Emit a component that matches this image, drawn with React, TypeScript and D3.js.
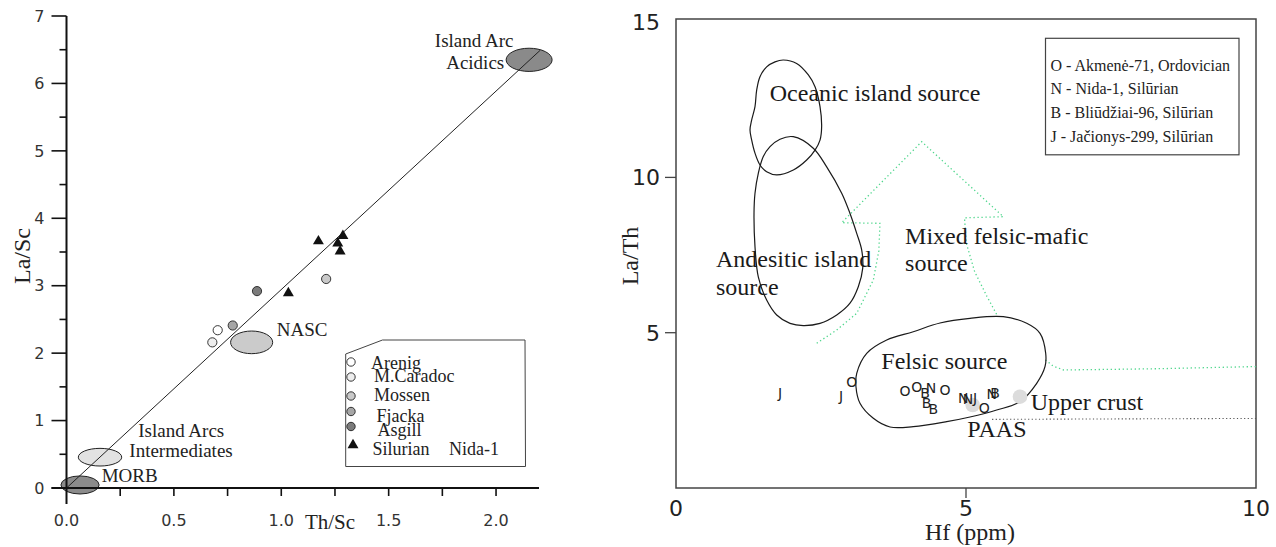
import React, { useRef, useEffect } from 'react';
import * as d3 from 'd3';

// ── Left panel: La/Sc vs Th/Sc ───────────────────────────────────────────────
const ORD_GROUPS = ['Arenig', 'M.Caradoc', 'Mossen', 'Fjacka', 'Asgill'];
const ORD_FILLS = ['#ffffff', '#ededed', '#c9c9c9', '#a6a6a6', '#7b7b7b'];

const ORD_GROUP = ['Arenig', 'M.Caradoc', 'Fjacka', 'Asgill', 'Mossen'];
const ORD_TH_SC = [0.704, 0.679, 0.774, 0.887, 1.209];
const ORD_LA_SC = [2.34, 2.16, 2.41, 2.92, 3.1];

const SIL_TH_SC = [1.033, 1.173, 1.287, 1.263, 1.274];
const SIL_LA_SC = [2.89, 3.66, 3.74, 3.63, 3.51];

const FIELD_NAMES = ['MORB', 'Island Arcs Intermediates', 'NASC', 'Island Arc Acidics'];
const FIELD_CX = [0.063, 0.156, 0.862, 2.154];
const FIELD_CY = [0.045, 0.457, 2.16, 6.35];
const FIELD_RX = [0.089, 0.101, 0.098, 0.107];
const FIELD_RY = [0.134, 0.131, 0.168, 0.172];
const FIELD_FILLS = ['#8b8b8b', '#e2e2e2', '#cbcbcb', '#8a8a8a'];

const TREND_TH_SC = [0, 2.205];
const TREND_LA_SC = [0, 6.49];

const LEFT_X_LABELS = [0, 0.5, 1, 1.5, 2];
const LEFT_X_TICKS = [0.25, 0.5, 0.75, 1, 1.25, 1.5, 1.75, 2];
const LEFT_Y_MAJOR = [0, 1, 2, 3, 4, 5, 6, 7];
const LEFT_Y_MINOR = [0.5, 1.5, 2.5, 3.5, 4.5, 5.5, 6.5];

const LEFT_NOTES = ['Island Arc', 'Acidics', 'NASC', 'Island Arcs', 'Intermediates', 'MORB'];
const LEFT_NOTE_X = [1.898, 1.903, 0.979, 0.334, 0.2925, 0.164];
const LEFT_NOTE_Y = [6.543, 6.217, 2.255, 0.761, 0.455, 0.093];

// ── Right panel: La/Th vs Hf ─────────────────────────────────────────────────
const OCEANIC: [number, number][] = [
  [1.85, 13.78], [2.08, 13.67], [2.282, 13.3], [2.397, 12.92], [2.483, 12.28], [2.511, 11.63],
  [2.483, 11.2], [2.397, 10.88], [2.253, 10.56], [2.023, 10.24], [1.736, 10.08], [1.563, 10.18],
  [1.448, 10.4], [1.362, 10.78], [1.305, 11.2], [1.276, 11.53], [1.305, 11.85], [1.362, 12.28],
  [1.391, 12.81], [1.448, 13.24], [1.563, 13.56], [1.707, 13.72],
];
const ANDESITIC: [number, number][] = [
  [2.022, 11.31], [2.367, 10.94], [2.598, 10.34], [2.857, 9.49], [3.0, 8.84], [3.116, 8.2],
  [3.202, 7.66], [3.219, 7.07], [3.143, 6.48], [3.0, 5.95], [2.771, 5.57], [2.483, 5.3],
  [2.195, 5.23], [1.966, 5.3], [1.736, 5.57], [1.563, 6.05], [1.419, 6.8], [1.362, 7.77],
  [1.345, 8.84], [1.362, 9.49], [1.419, 10.13], [1.505, 10.67], [1.621, 10.99], [1.793, 11.23],
];
const FELSIC: [number, number][] = [
  [5.643, 5.515], [6.047, 5.303], [6.276, 4.981], [6.374, 4.337], [6.362, 3.905], [6.219, 3.371],
  [5.931, 2.778], [5.529, 2.511], [5.069, 2.286], [4.667, 2.135], [4.091, 1.974], [3.69, 1.964],
  [3.402, 2.244], [3.172, 2.727], [3.103, 3.261], [3.116, 3.693], [3.288, 4.337], [3.633, 4.765],
  [4.091, 5.032], [4.552, 5.312], [5.069, 5.464],
];
const MIXED_ARROW: [number, number][] = [
  [2.426, 4.659], [2.771, 5.087], [3.116, 5.625], [3.402, 6.697], [3.497, 7.634], [3.517, 8.522],
  [2.857, 8.542], [4.236, 11.149], [5.643, 8.735], [4.974, 8.699], [5.009, 7.859], [5.15, 6.961],
  [5.36, 6.175], [5.536, 5.56],
];
const MIXED_TAIL: [number, number][] = [[6.37, 4.12], [6.5, 3.93], [6.68, 3.8], [8.3, 3.84], [10, 3.91]];
const PAAS_LINE: [number, number][] = [[5.45, 2.21], [10, 2.24]];

const SAMPLE_CODES = ['J', 'J', 'O', 'O', 'O', 'B', 'N', 'O', 'B', 'B', 'N', 'N', 'J', 'O', 'N', 'B'];
const SAMPLE_HF = [1.793, 2.845, 3.029, 3.948, 4.149, 4.293, 4.397, 4.638, 4.322, 4.437, 4.953, 5.034, 5.155, 5.316, 5.443, 5.5];
const SAMPLE_LA_TH = [3.068, 2.962, 3.422, 3.133, 3.242, 3.049, 3.229, 3.155, 2.746, 2.534, 2.888, 2.865, 2.888, 2.566, 3.017, 3.049];

const REF_NAMES = ['PAAS', 'Upper crust'];
const REF_HF = [5.115, 5.931];
const REF_LA_TH = [2.672, 2.94];

const RIGHT_NOTES = ['Oceanic island source', 'Andesitic island', 'source', 'Mixed felsic-mafic', 'source', 'Felsic source', 'Upper crust', 'PAAS'];
const RIGHT_NOTE_X = [1.617, 0.69, 0.69, 3.95, 3.95, 3.54, 6.115, 5.023];
const RIGHT_NOTE_Y = [12.46, 7.1, 6.22, 7.84, 6.98, 3.82, 2.511, 1.632];

const RIGHT_X_LABELS = [0, 5, 10];
const RIGHT_Y_LABELS = [5, 10, 15];
const RIGHT_Y_TICKS = [5, 10];
const RIGHT_X_TICKS = [5];

const RIGHT_LEGEND = [
  'O - Akmenė-71, Ordovician',
  'N - Nida-1, Silūrian',
  'B - Bliūdžiai-96, Silūrian',
  'J - Jačionys-299, Silūrian',
];

const SERIF = '"Liberation Serif", "Times New Roman", serif';
const SANS = '"DejaVu Sans", Verdana, sans-serif';

export default function App() {
  const ref = useRef<SVGSVGElement | null>(null);

  useEffect(() => {
    document.body.style.margin = '0';
    const svg = d3.select(ref.current);
    svg.selectAll('*').remove();

    // ══ LEFT PANEL ══════════════════════════════════════════════════════════
    const lx = d3.scaleLinear().domain([0, 2.2]).range([66.5, 539]);
    const ly = d3.scaleLinear().domain([0, 7]).range([488, 16]);
    const L = svg.append('g');

    // fields (ellipses)
    FIELD_NAMES.forEach((_, i) => {
      L.append('ellipse')
        .attr('cx', lx(FIELD_CX[i])).attr('cy', ly(FIELD_CY[i]))
        .attr('rx', lx(FIELD_RX[i]) - lx(0)).attr('ry', ly(0) - ly(FIELD_RY[i]))
        .attr('fill', FIELD_FILLS[i])
        .attr('stroke', '#222').attr('stroke-width', 1);
    });

    // trend line
    L.append('line')
      .attr('x1', lx(TREND_TH_SC[0])).attr('y1', ly(TREND_LA_SC[0]))
      .attr('x2', lx(TREND_TH_SC[1])).attr('y2', ly(TREND_LA_SC[1]))
      .attr('stroke', '#222').attr('stroke-width', 1);

    // axes
    L.append('line')
      .attr('x1', lx(0) - 15).attr('x2', lx(2.2))
      .attr('y1', ly(0)).attr('y2', ly(0))
      .attr('stroke', '#111').attr('stroke-width', 2);
    L.append('line')
      .attr('x1', lx(0)).attr('x2', lx(0))
      .attr('y1', ly(7)).attr('y2', ly(0) + 16)
      .attr('stroke', '#111').attr('stroke-width', 2);

    LEFT_X_TICKS.forEach(t => {
      L.append('line')
        .attr('x1', lx(t)).attr('x2', lx(t))
        .attr('y1', ly(0)).attr('y2', ly(0) + 8)
        .attr('stroke', '#111').attr('stroke-width', 1.6);
    });
    LEFT_Y_MAJOR.forEach(t => {
      L.append('line')
        .attr('x1', lx(0) - 15).attr('x2', lx(0))
        .attr('y1', ly(t)).attr('y2', ly(t))
        .attr('stroke', '#111').attr('stroke-width', 1.6);
      L.append('text')
        .attr('x', lx(0) - 22).attr('y', ly(t))
        .attr('dy', '0.36em')
        .attr('text-anchor', 'end')
        .attr('font-family', SANS).attr('font-size', 16)
        .attr('fill', '#333')
        .text(String(t));
    });
    LEFT_Y_MINOR.forEach(t => {
      L.append('line')
        .attr('x1', lx(0) - 7).attr('x2', lx(0))
        .attr('y1', ly(t)).attr('y2', ly(t))
        .attr('stroke', '#111').attr('stroke-width', 1.6);
    });
    LEFT_X_LABELS.forEach(t => {
      L.append('text')
        .attr('x', lx(t)).attr('y', ly(0) + 38)
        .attr('text-anchor', 'middle')
        .attr('font-family', SANS).attr('font-size', 16)
        .attr('fill', '#333')
        .text(t.toFixed(1));
    });

    L.append('text')
      .attr('x', 330).attr('y', 529)
      .attr('text-anchor', 'middle')
      .attr('font-family', SERIF).attr('font-size', 21)
      .attr('fill', '#222')
      .text('Th/Sc');
    L.append('text')
      .attr('transform', 'translate(30,256) rotate(-90)')
      .attr('text-anchor', 'middle')
      .attr('font-family', SERIF).attr('font-size', 24)
      .attr('fill', '#222')
      .text('La/Sc');

    // annotations
    LEFT_NOTES.forEach((t, i) => {
      L.append('text')
        .attr('x', lx(LEFT_NOTE_X[i])).attr('y', ly(LEFT_NOTE_Y[i]))
        .attr('text-anchor', i < 2 ? 'middle' : 'start')
        .attr('font-family', SERIF).attr('font-size', 19)
        .attr('fill', '#222')
        .text(t);
    });

    // samples
    ORD_GROUP.forEach((g, i) => {
      L.append('circle')
        .attr('cx', lx(ORD_TH_SC[i])).attr('cy', ly(ORD_LA_SC[i]))
        .attr('r', 4.6)
        .attr('fill', ORD_FILLS[ORD_GROUPS.indexOf(g)])
        .attr('stroke', '#222').attr('stroke-width', 0.9);
    });
    const tri = d3.symbol().type(d3.symbolTriangle).size(52);
    SIL_TH_SC.forEach((v, i) => {
      L.append('path')
        .attr('d', tri())
        .attr('transform', `translate(${lx(v)},${ly(SIL_LA_SC[i])})`)
        .attr('fill', '#111');
    });

    // legend
    const legendPts: [number, number][] = [[345.7, 354], [382.5, 340], [525, 340], [525.5, 466.5], [345.7, 466.5]];
    L.append('path')
      .attr('d', d3.line()(legendPts) + 'Z')
      .attr('fill', 'white')
      .attr('stroke', '#444').attr('stroke-width', 1);
    const symY = [362, 377, 396, 411.5, 426.5];
    const txtX = [371, 374, 374, 376.5, 377.5];
    const txtY = [369, 382, 401, 422, 436];
    ORD_GROUPS.forEach((g, i) => {
      L.append('circle')
        .attr('cx', 351).attr('cy', symY[i]).attr('r', 4.2)
        .attr('fill', ORD_FILLS[i])
        .attr('stroke', '#222').attr('stroke-width', 0.9);
      L.append('text')
        .attr('x', txtX[i]).attr('y', txtY[i])
        .attr('font-family', SERIF).attr('font-size', 18)
        .attr('fill', '#222')
        .text(g);
    });
    L.append('path')
      .attr('d', tri())
      .attr('transform', 'translate(353,445)')
      .attr('fill', '#111');
    L.append('text')
      .attr('x', 372.5).attr('y', 455)
      .attr('font-family', SERIF).attr('font-size', 18)
      .attr('fill', '#222')
      .text('Silurian');
    L.append('text')
      .attr('x', 449).attr('y', 455)
      .attr('font-family', SERIF).attr('font-size', 18)
      .attr('fill', '#222')
      .text('Nida-1');

    // ══ RIGHT PANEL ═════════════════════════════════════════════════════════
    const rx = d3.scaleLinear().domain([0, 10]).range([676, 1256]);
    const ry = d3.scaleLinear().domain([0, 15.1]).range([488, 19]);
    const R = svg.append('g');

    R.append('rect')
      .attr('x', rx(0)).attr('y', ry(15.1))
      .attr('width', rx(10) - rx(0)).attr('height', ry(0) - ry(15.1))
      .attr('fill', 'none')
      .attr('stroke', '#444').attr('stroke-width', 1.5);

    RIGHT_Y_TICKS.forEach(t => {
      R.append('line')
        .attr('x1', rx(0) - 11).attr('x2', rx(0))
        .attr('y1', ry(t)).attr('y2', ry(t))
        .attr('stroke', '#444').attr('stroke-width', 1.3);
    });
    RIGHT_X_TICKS.forEach(t => {
      R.append('line')
        .attr('x1', rx(t)).attr('x2', rx(t))
        .attr('y1', ry(0)).attr('y2', ry(0) + 10)
        .attr('stroke', '#444').attr('stroke-width', 1.3);
    });
    RIGHT_Y_LABELS.forEach(t => {
      R.append('text')
        .attr('x', rx(0) - 16).attr('y', ry(t))
        .attr('dy', '0.36em')
        .attr('text-anchor', 'end')
        .attr('font-family', SANS).attr('font-size', 22)
        .attr('fill', '#222')
        .text(String(t));
    });
    RIGHT_X_LABELS.forEach(t => {
      R.append('text')
        .attr('x', rx(t)).attr('y', ry(0) + 28)
        .attr('text-anchor', 'middle')
        .attr('font-family', SANS).attr('font-size', 22)
        .attr('fill', '#222')
        .text(String(t));
    });
    R.append('text')
      .attr('x', 970).attr('y', 540)
      .attr('text-anchor', 'middle')
      .attr('font-family', SERIF).attr('font-size', 24)
      .attr('fill', '#222')
      .text('Hf (ppm)');
    R.append('text')
      .attr('transform', 'translate(638,256) rotate(-90)')
      .attr('text-anchor', 'middle')
      .attr('font-family', SERIF).attr('font-size', 24)
      .attr('fill', '#222')
      .text('La/Th');

    const closed = d3.line<[number, number]>()
      .x(d => rx(d[0])).y(d => ry(d[1]))
      .curve(d3.curveCatmullRomClosed.alpha(0.5));
    const open = d3.line<[number, number]>()
      .x(d => rx(d[0])).y(d => ry(d[1]));

    // mixed felsic-mafic arrow (green dotted)
    [MIXED_ARROW, MIXED_TAIL].forEach(p => {
      R.append('path')
        .attr('d', open(p))
        .attr('fill', 'none')
        .attr('stroke', '#4fd68c').attr('stroke-width', 1.3)
        .attr('stroke-dasharray', '1.3,2.7');
    });
    R.append('path')
      .attr('d', open(PAAS_LINE))
      .attr('fill', 'none')
      .attr('stroke', '#555').attr('stroke-width', 1.1)
      .attr('stroke-dasharray', '1.2,2.4');

    [OCEANIC, ANDESITIC, FELSIC].forEach(p => {
      R.append('path')
        .attr('d', closed(p))
        .attr('fill', 'none')
        .attr('stroke', '#1a1a1a').attr('stroke-width', 1.2);
    });

    // reference compositions
    REF_NAMES.forEach((_, i) => {
      R.append('circle')
        .attr('cx', rx(REF_HF[i])).attr('cy', ry(REF_LA_TH[i]))
        .attr('r', 7.3)
        .attr('fill', '#dcdcdc');
    });

    // annotations
    RIGHT_NOTES.forEach((t, i) => {
      R.append('text')
        .attr('x', rx(RIGHT_NOTE_X[i])).attr('y', ry(RIGHT_NOTE_Y[i]))
        .attr('font-family', SERIF).attr('font-size', 24)
        .attr('fill', '#1a1a1a')
        .text(t);
    });

    // samples as letter codes
    SAMPLE_CODES.forEach((c, i) => {
      R.append('text')
        .attr('x', rx(SAMPLE_HF[i])).attr('y', ry(SAMPLE_LA_TH[i]))
        .attr('dy', '0.36em')
        .attr('text-anchor', 'middle')
        .attr('font-family', SANS).attr('font-size', 14)
        .attr('fill', '#222')
        .text(c);
    });

    // legend
    R.append('rect')
      .attr('x', 1045.5).attr('y', 38.3)
      .attr('width', 193.5).attr('height', 116.5)
      .attr('fill', 'white')
      .attr('stroke', '#444').attr('stroke-width', 1.2);
    const legY = [71, 93.5, 118, 142.3];
    RIGHT_LEGEND.forEach((t, i) => {
      R.append('text')
        .attr('x', 1050.5).attr('y', legY[i])
        .attr('font-family', SERIF).attr('font-size', 16)
        .attr('fill', '#222')
        .text(t);
    });
  }, []);

  return (
    <svg
      ref={ref}
      width={1276}
      height={547}
      style={{ position: 'absolute', left: 0, top: 0, background: 'white', display: 'block' }}
    />
  );
}
